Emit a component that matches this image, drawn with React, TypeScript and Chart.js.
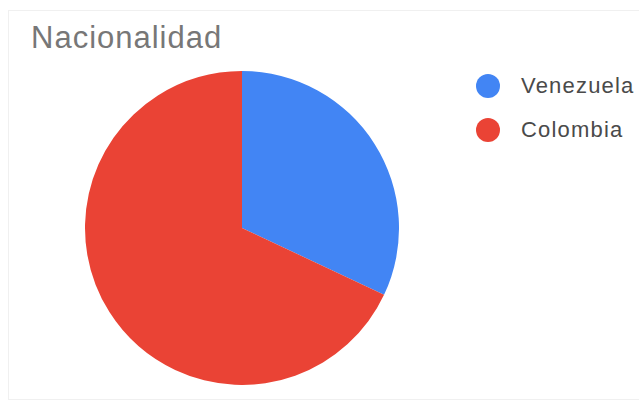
import React, { useEffect, useRef } from "react";
import { Chart, registerables } from "chart.js";

Chart.register(...registerables);

const TITLE = "Nacionalidad";
const categories = ["Venezuela", "Colombia"];
const values = [32, 68];
const colors = ["#4285F4", "#EA4335"];

export default function App() {
  const ref = useRef<HTMLCanvasElement | null>(null);

  useEffect(() => {
    document.body.style.margin = "0";
    const ctx = ref.current!;
    const chart = new Chart(ctx, {
      type: "pie",
      data: {
        labels: categories,
        datasets: [
          {
            data: values,
            backgroundColor: colors,
            borderWidth: 0,
          },
        ],
      },
      options: {
        animation: false,
        responsive: false,
        events: [],
        layout: { padding: 0 },
        plugins: {
          legend: { display: false },
          title: { display: false },
          tooltip: { enabled: false },
        },
      },
    });
    return () => chart.destroy();
  }, []);

  return (
    <div
      style={{
        position: "relative",
        width: 639,
        height: 403,
        background: "#fff",
        overflow: "hidden",
        fontFamily: "Arial, 'Liberation Sans', sans-serif",
      }}
    >
      <div
        style={{
          position: "absolute",
          left: 8,
          top: 10,
          width: 700,
          height: 390,
          border: "1px solid #f0f0f0",
          boxSizing: "border-box",
        }}
      />
      <div
        style={{
          position: "absolute",
          left: 31,
          top: 20,
          fontSize: 31,
          lineHeight: "36px",
          color: "#777",
          letterSpacing: "1px",
          whiteSpace: "nowrap",
        }}
      >
        {TITLE}
      </div>
      <canvas
        ref={ref}
        width={314}
        height={314}
        style={{ position: "absolute", left: 85, top: 71, width: 314, height: 314 }}
      />
      {categories.map((c, i) => (
        <div
          key={c}
          style={{
            position: "absolute",
            left: 476,
            top: 74 + i * 44,
            height: 24,
            display: "flex",
            alignItems: "center",
            whiteSpace: "nowrap",
          }}
        >
          <span
            style={{
              display: "inline-block",
              width: 24,
              height: 24,
              borderRadius: "50%",
              background: colors[i],
              marginRight: 21,
            }}
          />
          <span style={{ fontSize: 22, color: "#4a4a4a", lineHeight: "24px", letterSpacing: "1.2px" }}>
            {c}
          </span>
        </div>
      ))}
    </div>
  );
}
